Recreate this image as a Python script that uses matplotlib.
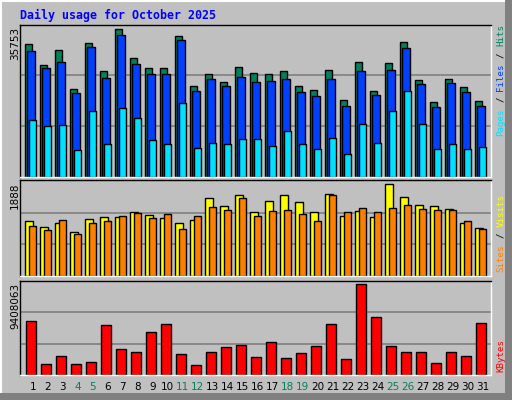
import matplotlib
matplotlib.use("Agg")
import matplotlib.pyplot as plt
import numpy as np

days = list(range(1, 32))
hits = [32186,27104,30734,21296,32428,25652,35753,28798,26378,26378,34122,22022,24926,22990,26620,
        25168,24926,25652,22022,21054,25894,18634,27830,20812,27588,32670,23474,18150,23716,21780,18392]
files = [30492,26378,27830,20328,31460,23958,34364,27346,24926,24926,33154,20812,23716,22022,24200,
         22990,23232,23716,20570,19602,23716,17182,25652,19844,25894,31218,22506,16940,22748,20570,17182]
pages = [13794,12342,12584,6534,15972,7986,16698,14278,8954,7986,17908,7018,8228,7986,9196,
         9196,7502,11132,7986,6776,9438,5566,12826,8228,15972,20812,12826,6776,7986,6776,7260]
visits = [1129,1006,1088,903,1170,1211,1211,1313,1252,1190,1088,1149,1601,1436,1662,
          1313,1539,1662,1518,1313,1683,1231,1334,1211,1888,1621,1457,1436,1375,1088,985]
sites = [1026,944,1149,862,1088,1129,1231,1293,1190,1272,964,1231,1416,1354,1601,
         1231,1334,1354,1272,1129,1662,1313,1395,1313,1395,1457,1375,1354,1354,1129,964]
kbytes = [5582844,1137246,1964334,1137246,1344018,5169300,2688036,2377878,4445598,5272686,2171106,
          1033860,2377878,2894808,3101580,1860948,3411738,1757562,2274492,2998194,5272686,1654176,
          9408063,5996388,2998194,2377878,2377878,1240632,2377878,1964334,5376072]
weekends = [4, 5, 11, 12, 18, 19, 25, 26]

C_HITS, C_FILES, C_PAGES = "#00805c", "#0040ff", "#00e0ff"
C_VISITS, C_SITES, C_KB = "#ffff00", "#ff8000", "#ff0000"
BG = "#c0c0c0"

W, H = 512, 400
fig = plt.figure(figsize=(5.12, 4.0), dpi=100, facecolor=BG)

def fr(x0, y0, x1, y1):
    return [x0 / W, 1 - y1 / H, (x1 - x0) / W, (y1 - y0) / H]

# outer frame
fig.add_artist(plt.Line2D([1/W, 1/W], [0, 1], color="white", lw=1.5))
fig.add_artist(plt.Line2D([0, 1], [1-1/H, 1-1/H], color="white", lw=1.5))
fig.add_artist(plt.Line2D([0, 1], [4/H, 4/H], color="#808080", lw=5))
fig.add_artist(plt.Line2D([1-4/W, 1-4/W], [0, 1], color="#808080", lw=5))

x = np.array(days, dtype=float)
xlim = (0.687, 32.05)
u = 1 / 15.0

def setup(ax, ymax, top):
    ax.set_facecolor(BG)
    ax.set_xlim(*xlim)
    ax.set_ylim(0, ymax)
    ax.set_xticks([])
    ax.set_yticks([])
    for s in ax.spines.values():
        s.set_color("black"); s.set_linewidth(1)
    ax.spines["right"].set_color("white")
    ax.spines["bottom"].set_color("white")
    for f in (1/3, 2/3):
        ax.axhline(top * f, color="#808080", lw=1.2, zorder=0)

ax1 = fig.add_axes(fr(20.3, 25.3, 490.7, 176.7))
setup(ax1, 36640, 35753 * 1.03)
kw = dict(align="edge", edgecolor="black", linewidth=1, zorder=2)
ax1.bar(x, hits, width=0.5, color=C_HITS, **kw)
ax1.bar(x + 2*u, files, width=0.53, color=C_FILES, **kw)
ax1.bar(x + 4*u, pages, width=0.5, color=C_PAGES, **kw)

ax2 = fig.add_axes(fr(20.3, 180, 490.7, 276.3))
setup(ax2, 1976, 1888 * 1.04)
ax2.bar(x, visits, width=0.53, color=C_VISITS, **kw)
ax2.bar(x + 4*u, sites, width=0.5, color=C_SITES, **kw)

ax3 = fig.add_axes(fr(20.3, 281, 490.7, 375.3))
setup(ax3, 9752746, 9408063 * 1.04)
ax3.bar(x + 1*u, kbytes, width=0.67, color=C_KB, **kw)

fig.text(20 / W, 1 - 15 / H, "Daily usage for October 2025", family="DejaVu Sans Mono",
         weight="bold", color="#0000ff", fontsize=8.4, va="center", ha="left")

for y0, lab in [(27, "35753"), (182, "1888"), (283, "9408063")]:
    fig.text(15 / W, 1 - y0 / H, lab, rotation=90, ha="center", va="top",
             fontsize=7.5, color="black")

def right_label(ystart, pieces):
    cw = 5.6
    pos = ystart
    for txt, col in pieces:
        fig.text(501 / W, 1 - pos / H, txt, rotation=90, ha="center", va="bottom",
                 family="DejaVu Sans Mono", fontsize=6.6, color=col)
        pos -= cw * (len(txt) + 1)

right_label(136, [("Pages", C_PAGES), ("/", "black"), ("Files", C_FILES), ("/", "black"), ("Hits", C_HITS)])
right_label(272, [("Sites", C_SITES), ("/", "black"), ("Visits", C_VISITS)])
right_label(372, [("KBytes", C_KB)])

for d in days:
    xd = 25 + 15 * (d - 1) + 7.7
    fig.text(xd / W, 1 - 387 / H, str(d), ha="center", va="center", fontsize=7.5,
             color=C_HITS if d in weekends else "black")

fig.savefig("out.png", dpi=100, facecolor=BG)
